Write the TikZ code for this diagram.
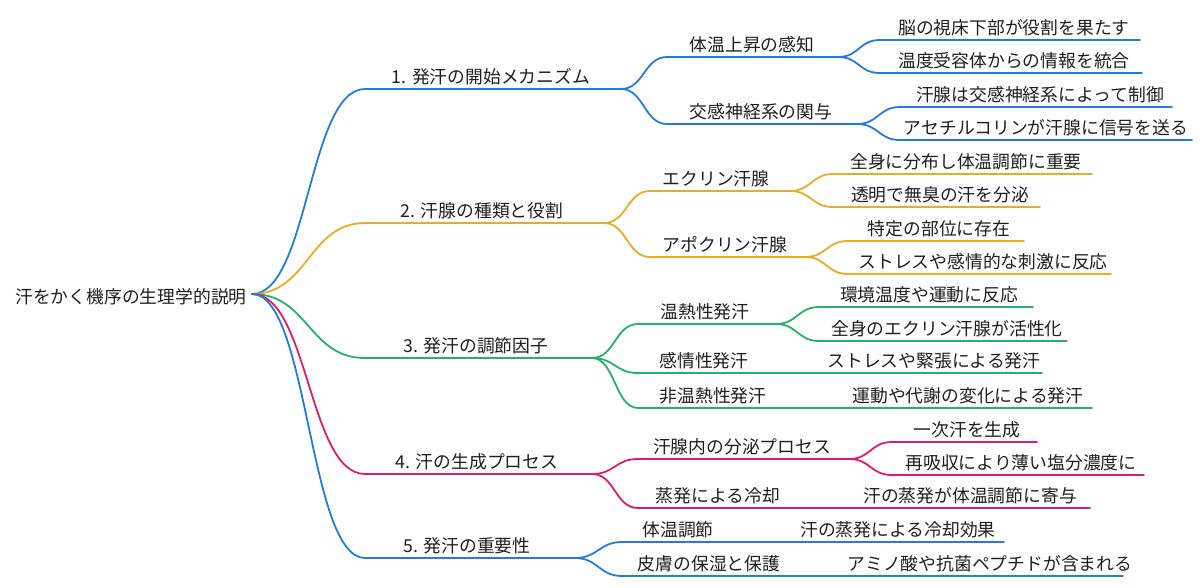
\documentclass[tikz,border=0pt]{standalone}
\usepackage{fontspec}
\setmainfont{Noto Sans CJK JP}
\definecolor{cblue}{RGB}{35,125,215}
\definecolor{corange}{RGB}{235,170,40}
\definecolor{cgreen}{RGB}{40,175,110}
\definecolor{cpink}{RGB}{220,30,110}
\begin{document}
\begin{tikzpicture}[x=1pt,y=-1pt,
  txt/.style={inner sep=0pt, font=\fontsize{17.8}{20}\selectfont, text=black!88},
  ln/.style={line width=1.8pt, line cap=round}]
\useasboundingbox (0,0) rectangle (1200,587);
\newcommand{\mmlink}[4]{\draw[ln,#1] (#2) .. controls +(#4,0) and +(-#4,0) .. (#3);}
\newcommand{\mmnode}[7]{%
  \coordinate (#1s) at (#3,#6);
  \coordinate (#1e) at (#4,#6);
  \node[txt] (#1) at (#5,{#6-12}) {#7};
  \draw[ln,#2] (#1s) -- (#1e);}
% root
\node[txt] (R) at (131,297) {汗をかく機序の生理学的説明};
\coordinate (Rp) at (252,294);
% level 1
\mmnode{A1}{cblue}{365}{621}{491}{89}{1. 発汗の開始メカニズム}
\mmnode{A2}{corange}{365}{604}{482}{223}{2. 汗腺の種類と役割}
\mmnode{A3}{cgreen}{365}{592}{476}{358}{3. 発汗の調節因子}
\mmnode{A4}{cpink}{365}{592}{477}{474}{4. 汗の生成プロセス}
\mmnode{A5}{cblue}{365}{575}{467}{558}{5. 発汗の重要性}
\mmlink{cblue}{Rp}{A1s}{56.5}
\mmlink{corange}{Rp}{A2s}{56.5}
\mmlink{cgreen}{Rp}{A3s}{56.5}
\mmlink{cpink}{Rp}{A4s}{56.5}
\mmlink{cblue}{Rp}{A5s}{56.5}
% level 2
\mmnode{B11}{cblue}{667}{838}{752}{57}{体温上昇の感知}
\mmnode{B12}{cblue}{667}{857}{761}{124}{交感神経系の関与}
\mmnode{B21}{corange}{650}{790}{716}{191}{エクリン汗腺}
\mmnode{B22}{corange}{650}{805}{725}{257}{アポクリン汗腺}
\mmnode{B31}{cgreen}{638}{776}{705}{324}{温熱性発汗}
\mmnode{B32}{cgreen}{638}{768}{704}{373}{感情性発汗}
\mmnode{B33}{cgreen}{638}{787}{713}{408}{非温熱性発汗}
\mmnode{B41}{cpink}{638}{849}{742}{459}{汗腺内の分泌プロセス}
\mmnode{B42}{cpink}{638}{800}{718}{508}{蒸発による冷却}
\mmnode{B51}{cblue}{622}{733}{678}{542}{体温調節}
\mmnode{B52}{cblue}{622}{800}{709}{576}{皮膚の保湿と保護}
\mmlink{cblue}{A1e}{B11s}{23}
\mmlink{cblue}{A1e}{B12s}{23}
\mmlink{corange}{A2e}{B21s}{23}
\mmlink{corange}{A2e}{B22s}{23}
\mmlink{cgreen}{A3e}{B31s}{23}
\mmlink{cgreen}{A3e}{B32s}{23}
\mmlink{cgreen}{A3e}{B33s}{23}
\mmlink{cpink}{A4e}{B41s}{23}
\mmlink{cpink}{A4e}{B42s}{23}
\mmlink{cblue}{A5e}{B51s}{23}
\mmlink{cblue}{A5e}{B52s}{23}
% level 3
\mmnode{C111}{cblue}{880}{1140}{1014}{40}{脳の視床下部が役割を果たす}
\mmnode{C112}{cblue}{880}{1142}{1014}{73}{温度受容体からの情報を統合}
\mmnode{C121}{cblue}{900}{1172}{1040}{107}{汗腺は交感神経系によって制御}
\mmnode{C122}{cblue}{900}{1192}{1046}{140}{アセチルコリンが汗腺に信号を送る}
\mmnode{C211}{corange}{833}{1092}{966}{174}{全身に分布し体温調節に重要}
\mmnode{C212}{corange}{833}{1040}{940}{207}{透明で無臭の汗を分泌}
\mmnode{C221}{corange}{848}{1024}{939}{241}{特定の部位に存在}
\mmnode{C222}{corange}{848}{1111}{983}{274}{ストレスや感情的な刺激に反応}
\mmnode{C311}{cgreen}{819}{1033}{929}{307}{環境温度や運動に反応}
\mmnode{C312}{cgreen}{819}{1067}{947}{341}{全身のエクリン汗腺が活性化}
\mmnode{C321}{cgreen}{811}{1042}{934}{373}{ストレスや緊張による発汗}
\mmnode{C331}{cgreen}{830}{1092}{968}{408}{運動や代謝の変化による発汗}
\mmnode{C411}{cpink}{892}{1037}{967}{442}{一次汗を生成}
\mmnode{C412}{cpink}{892}{1144}{1021}{475}{再吸収により薄い塩分濃度に}
\mmnode{C421}{cpink}{843}{1090}{970}{508}{汗の蒸発が体温調節に寄与}
\mmnode{C511}{cblue}{776}{1004}{898}{542}{汗の蒸発による冷却効果}
\mmnode{C521}{cblue}{843}{1123}{990}{576}{アミノ酸や抗菌ペプチドが含まれる}
\mmlink{cblue}{B11e}{C111s}{21.5}
\mmlink{cblue}{B11e}{C112s}{21.5}
\mmlink{cblue}{B12e}{C121s}{21.5}
\mmlink{cblue}{B12e}{C122s}{21.5}
\mmlink{corange}{B21e}{C211s}{21.5}
\mmlink{corange}{B21e}{C212s}{21.5}
\mmlink{corange}{B22e}{C221s}{21.5}
\mmlink{corange}{B22e}{C222s}{21.5}
\mmlink{cgreen}{B31e}{C311s}{21.5}
\mmlink{cgreen}{B31e}{C312s}{21.5}
\mmlink{cgreen}{B32e}{C321s}{21.5}
\mmlink{cgreen}{B33e}{C331s}{21.5}
\mmlink{cpink}{B41e}{C411s}{21.5}
\mmlink{cpink}{B41e}{C412s}{21.5}
\mmlink{cpink}{B42e}{C421s}{21.5}
\mmlink{cblue}{B51e}{C511s}{21.5}
\mmlink{cblue}{B52e}{C521s}{21.5}
\end{tikzpicture}
\end{document}
